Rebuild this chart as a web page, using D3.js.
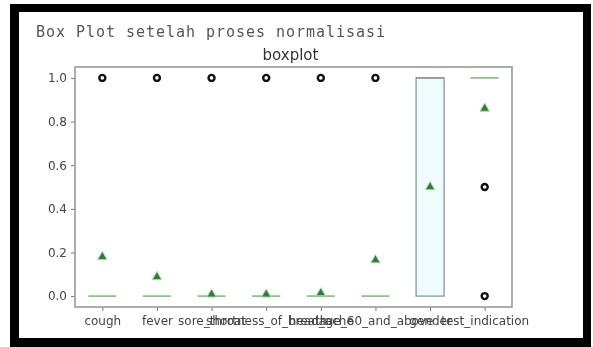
<!DOCTYPE html>
<html>
<head>
<meta charset="utf-8">
<script src="https://cdn.jsdelivr.net/npm/d3@7"></script>
<style>
  html, body { margin: 0; padding: 0; background: #fff; }
  svg { display: block; filter: blur(0.4px); }
</style>
</head>
<body>
<svg id="chart" width="593" height="347"></svg>
<script>
const categories = ["cough", "fever", "sore_throat", "shortness_of_breath", "head_ache", "age_60_and_above", "gender", "test_indication"]
const q1Values = [0, 0, 0, 0, 0, 0, 0, 1]
const medianValues = [0, 0, 0, 0, 0, 0, 1, 1]
const q3Values = [0, 0, 0, 0, 0, 0, 1, 1]
const meanValues = [0.18, 0.088, 0.008, 0.008, 0.014, 0.165, 0.5, 0.86]
const outlierValues = [[1], [1], [1], [1], [1], [1], [], [0.5, 0]]
const yTicks = [0, 0.2, 0.4, 0.6, 0.8, 1.0]

const svg = d3.select("#chart")

// screenshot frame, drawn as four black bars
const frame = [[10, 4, 581, 8], [10, 4, 9, 343], [583, 4, 8, 343], [10, 338, 581, 9]]
svg.selectAll("rect.frame")
    .data(frame)
    .enter()
    .append("rect")
    .attr("class", "frame")
    .attr("x", (d) => d[0]).attr("y", (d) => d[1])
    .attr("width", (d) => d[2]).attr("height", (d) => d[3])
    .attr("fill", "#000")

// printed heading above the figure
svg.append("text")
    .attr("x", 36).attr("y", 37)
    .attr("textLength", 349)
    .attr("lengthAdjust", "spacing")
    .style("font-family", "'DejaVu Sans Mono', monospace")
    .style("font-size", "15px")
    .attr("fill", "#555")
    .text("Box Plot setelah proses normalisasi")

const plotLeft = 75, plotRight = 512, plotTop = 67, plotBottom = 307

const x = d3.scaleLinear().domain([0.5, categories.length + 0.5]).range([plotLeft, plotRight])
const y = d3.scaleLinear().domain([-0.05, 1.05]).range([plotBottom, plotTop])
const boxW = 28

svg.append("text")
    .attr("x", (plotLeft + plotRight) / 2 - 3).attr("y", 60)
    .attr("text-anchor", "middle")
    .style("font-family", "'DejaVu Sans', sans-serif")
    .style("font-size", "15px")
    .attr("fill", "#333")
    .text("boxplot")

// axes
const xAxis = svg.append("g")
    .attr("transform", "translate(0," + plotBottom + ")")
    .call(d3.axisBottom(x).tickValues(categories.map((c, i) => i + 1)).tickFormat((d) => categories[d - 1]).tickSize(4).tickPadding(5))
const yAxis = svg.append("g")
    .attr("transform", "translate(" + plotLeft + ",0)")
    .call(d3.axisLeft(y).tickValues(yTicks).tickFormat(d3.format(".1f")).tickSize(4).tickPadding(4))

for (const ax of [xAxis, yAxis]) {
    ax.select(".domain").remove()
    ax.selectAll("line").attr("stroke", "#777")
    ax.selectAll("text")
        .style("font-family", "'DejaVu Sans', sans-serif")
        .style("font-size", "12px")
        .attr("fill", "#444")
}

// spines
svg.append("rect")
    .attr("x", plotLeft).attr("y", plotTop)
    .attr("width", plotRight - plotLeft).attr("height", plotBottom - plotTop)
    .attr("fill", "none")
    .attr("stroke", "#999")
    .attr("stroke-width", 1.6)

const groups = svg.selectAll("g.box")
    .data(categories.map((c, i) => ({ pos: i + 1, q1: q1Values[i], med: medianValues[i], q3: q3Values[i], mean: meanValues[i], fliers: outlierValues[i] })))
    .enter()
    .append("g")
    .attr("class", "box")

// boxes
groups.append("rect")
    .attr("x", (d) => x(d.pos) - boxW / 2)
    .attr("y", (d) => y(d.q3))
    .attr("width", boxW)
    .attr("height", (d) => y(d.q1) - y(d.q3))
    .attr("fill", "#f0fbfd")
    .attr("stroke", "#7f9092")
    .attr("stroke-width", 1.2)

// medians
groups.append("line")
    .attr("x1", (d) => x(d.pos) - boxW / 2)
    .attr("x2", (d) => x(d.pos) + boxW / 2)
    .attr("y1", (d) => y(d.med))
    .attr("y2", (d) => y(d.med))
    .attr("stroke", (d) => d.q1 === d.q3 ? "#6cc06c" : "#8a9a8c")
    .attr("stroke-width", 1.5)

// outliers
groups.selectAll("circle")
    .data((d) => d.fliers.map((v) => ({ pos: d.pos, v: v })))
    .enter()
    .append("circle")
    .attr("cx", (d) => x(d.pos))
    .attr("cy", (d) => y(d.v))
    .attr("r", 3)
    .attr("fill", "#fff")
    .attr("stroke", "#111")
    .attr("stroke-width", 2.4)

// means
const tri = d3.symbol().type(d3.symbolTriangle).size(38)
groups.append("path")
    .attr("d", tri)
    .attr("transform", (d) => "translate(" + x(d.pos) + "," + y(d.mean) + ")")
    .attr("fill", "#2f7d3a")
    .attr("stroke", "#a6dca6")
    .attr("stroke-width", 1)
</script>
</body>
</html>
